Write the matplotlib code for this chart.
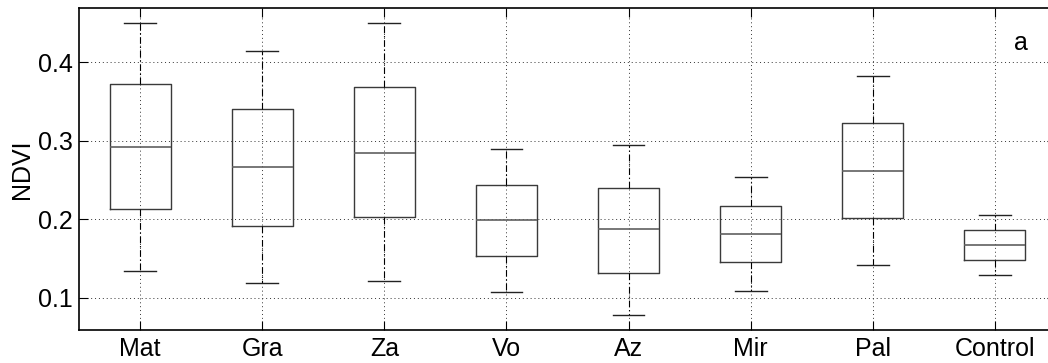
import matplotlib
matplotlib.use('Agg')
import matplotlib.pyplot as plt

# values (NDVI)
sites = ['Mat', 'Gra', 'Za', 'Vo', 'Az', 'Mir', 'Pal', 'Control']
whislo = [0.134, 0.119, 0.121, 0.107, 0.078, 0.109, 0.142, 0.129]
q1 = [0.213, 0.192, 0.203, 0.153, 0.132, 0.145, 0.202, 0.148]
med = [0.292, 0.266, 0.285, 0.199, 0.187, 0.181, 0.262, 0.167]
q3 = [0.372, 0.341, 0.368, 0.244, 0.240, 0.217, 0.322, 0.186]
whishi = [0.450, 0.414, 0.450, 0.289, 0.295, 0.254, 0.382, 0.205]
yticks = [0.1, 0.2, 0.3, 0.4]

plt.rcParams['font.family'] = ['Liberation Sans', 'DejaVu Sans']
plt.rcParams['font.size'] = 18

stats = []
for i in range(len(sites)):
    stats.append({'label': sites[i], 'whislo': whislo[i], 'q1': q1[i], 'med': med[i],
                  'q3': q3[i], 'whishi': whishi[i], 'fliers': []})

fig = plt.figure(figsize=(10.48, 3.63), dpi=100)
# right edge of the box is cut off in the reference
ax = fig.add_axes([79 / 1048, 1 - 330 / 363, 977 / 1048, 322 / 363])

ax.bxp(stats, widths=0.5, showfliers=False,
       boxprops=dict(color='#3a3a3a', linewidth=1.0),
       medianprops=dict(color='#606060', linewidth=1.2),
       whiskerprops=dict(color='black', linewidth=0.8, linestyle=(0, (6, 2.5, 1.2, 2.5))),
       capprops=dict(color='#222222', linewidth=1.0),
       capwidths=0.26, zorder=3)

ax.set_xlim(0.5, 8.5)
ax.set_ylim(0.059, 0.469)
ax.set_yticks(yticks)
ax.set_yticklabels(['0.1', '0.2', '0.3', '0.4'])
ax.set_ylabel('NDVI', labelpad=3)

ax.grid(True, color='#333333', linestyle=(0, (1, 3)), linewidth=0.7)
ax.set_axisbelow(True)
ax.tick_params(direction='in', length=6.5, width=0.8, top=True, right=True)
ax.tick_params(axis='y', pad=4.5)
ax.tick_params(axis='x', pad=5)
for s in ax.spines.values():
    s.set_linewidth(1.2)

ax.text(8.215, 0.4246, 'a', ha='center', va='center')

fig.savefig('out.png', dpi=100)
